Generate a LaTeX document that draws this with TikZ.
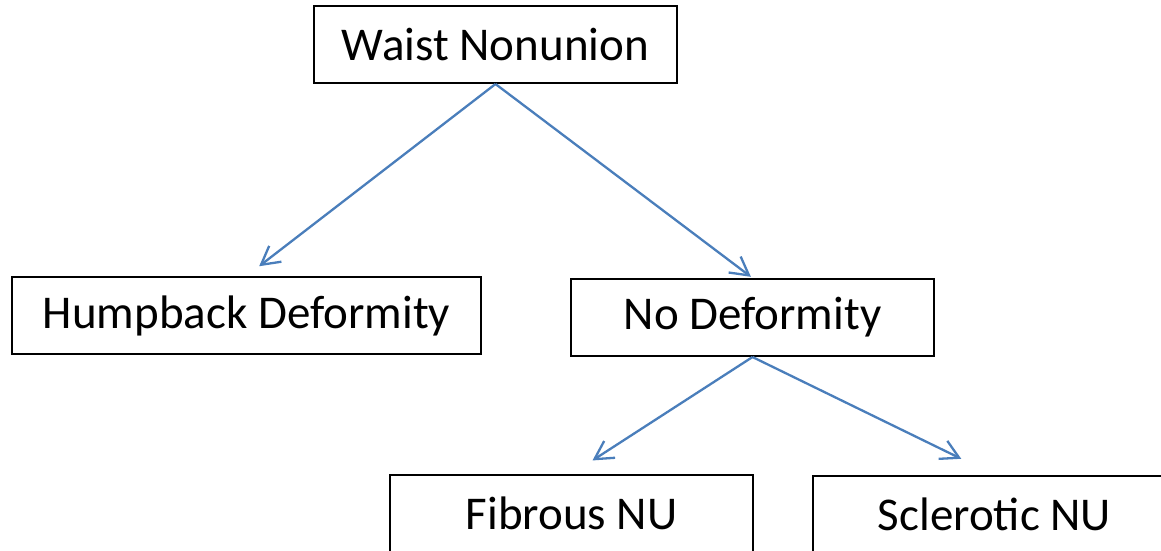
\documentclass[tikz,border=0pt]{standalone}
\usepackage{fontspec}
\setmainfont{Carlito}
\usetikzlibrary{arrows.meta,calc}
\definecolor{arrowblue}{RGB}{74,126,187}
\tikzset{
  box/.style={draw=black, line width=2pt, inner sep=0pt, minimum height=77pt,
    font=\fontsize{47}{56}\selectfont},
  link/.style={draw=arrowblue, line width=2.3pt,
    -{Straight Barb[length=18pt,width=20pt,line width=2.3pt]}}
}
\begin{document}
\begin{tikzpicture}[x=1pt,y=-1pt]
\useasboundingbox (0,0) rectangle (1161,550);
\clip (0,0) rectangle (1161,550);
\node[box, minimum width=363pt] (w)  at (495.5,44.5)  {Waist Nonunion};
\node[box, minimum width=469pt] (h)  at (246.5,315.5) {Humpback Deformity};
\node[box, minimum width=363pt] (nd) at (752.5,317.5) {No Deformity};
\node[box, minimum width=363pt] (f)  at (571.5,513.5) {Fibrous NU};
\node[box, minimum width=363pt] (s)  at (994.5,514.5) {Sclerotic NU};
\draw[link, shorten >=16pt] (w.south) -- (h.north);
\draw[link, shorten >=2pt] (w.south) -- (nd.north);
\draw[link, shorten >=25pt] (nd.south) -- (f.north);
\draw[link, shorten >=37pt] (nd.south) -- (s.north);
\end{tikzpicture}
\end{document}
